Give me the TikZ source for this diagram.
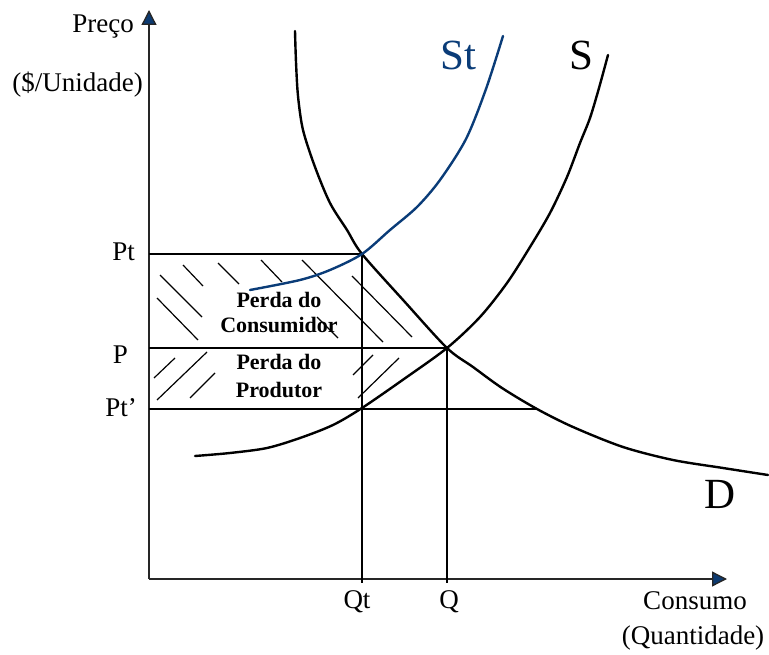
\documentclass[tikz,border=0pt]{standalone}
\usepackage{fontspec}
\setmainfont{Liberation Serif}
\usetikzlibrary{arrows.meta}
\definecolor{stblue}{RGB}{10,60,120}
\definecolor{tipblue}{RGB}{12,58,112}
\tikzset{
  axis/.style={line width=1.3pt, draw=black!85, -{Triangle[length=15pt,width=15pt,fill=tipblue]}},
  curve/.style={line width=2.4pt, line cap=round, line join=round},
  guide/.style={line width=1.2pt},
  hatch/.style={line width=1.2pt},
  lbl/.style={font=\fontsize{27}{31}\selectfont, inner sep=0pt},
  big/.style={font=\fontsize{43}{48}\selectfont, inner sep=0pt},
  area/.style={font=\fontsize{22}{25}\bfseries\selectfont, inner sep=0pt, align=center},
}
\begin{document}
\begin{tikzpicture}[x=1pt,y=-1pt]
\useasboundingbox (0,0) rectangle (769,655);
% key coordinates
\coordinate (O) at (149,579);
\coordinate (ytip) at (149,10);
\coordinate (xtip) at (727,579);
\coordinate (Et) at (362,254);
\coordinate (E) at (447,348);
\coordinate (Es) at (362,408);
\coordinate (Ed) at (537,409);
\coordinate (yPt) at (149,254);
\coordinate (yP) at (149,348);
\coordinate (yPs) at (149,409);
\coordinate (xQt) at (362,583);
\coordinate (xQ) at (447,583);
% axes
\draw[axis] (O) -- (ytip);
\draw[axis] (O) -- (xtip);
% guide lines
\draw[guide] (yPt) -- (Et);
\draw[guide] (yP) -- (E);
\draw[guide] (yPs) -- (Ed);
\draw[guide] (Et) -- (xQt);
\draw[guide] (E) -- (xQ);
% hatching consumer
\draw[hatch] (160,275) -- (202,317);
\draw[hatch] (157,298) -- (198,340);
\draw[hatch] (183,265) -- (203,286);
\draw[hatch] (218,263) -- (239,284);
\draw[hatch] (261,260) -- (282,282);
\draw[hatch] (302,260) -- (383,342);
\draw[hatch] (352,276) -- (412,337);
\draw[hatch] (317,317) -- (338,338);
% hatching producer
\draw[hatch] (154,378) -- (175,358);
\draw[hatch] (157,400) -- (207,352);
\draw[hatch] (190,398) -- (215,373);
\draw[hatch] (353,375) -- (373,355);
\draw[hatch] (358,398) -- (399,358);
% curves
\draw[curve] plot[smooth, tension=0.5] coordinates {(295,31) (296,62) (298,96) (303,130) (315,167) (330,203) (347,230) (362,254) (404,301) (447,348) (473,367) (502,388) (537,409) (573,427) (623,447) (673,460) (723,468) (768,475)};
\draw[curve] plot[smooth, tension=0.5] coordinates {(195,456) (230,453) (267,448) (300,438) (333,425) (362,408) (404,379) (447,348) (480,317) (507,283) (530,247) (550,213) (567,177) (580,143) (590,118) (599,88) (608,55)};
\draw[curve, draw=stblue] plot[smooth, tension=0.5] coordinates {(250,290) (300,280) (330,270) (362,254) (390,230) (417,207) (440,180) (466,139) (486,89) (503,36)};
% labels
\node[lbl, anchor=base east] (lPreco) at (134,33) {Preço};
\node[lbl, anchor=base east] (lUnid) at (143,92) {(\$/Unidade)};
\node[lbl, anchor=base east] (lPt) at (135,261) {Pt};
\node[lbl, anchor=base east] (lP) at (128,363) {P};
\node[lbl, anchor=base east] (lPs) at (137,416) {Pt’};
\node[lbl, anchor=base] (lQt) at (357,608) {Qt};
\node[lbl, anchor=base] (lQ) at (449,608) {Q};
\node[lbl, anchor=base] (lCons) at (695,609) {Consumo};
\node[lbl, anchor=base] (lQuant) at (693,644) {(Quantidade)};
\node[big, anchor=base west, text=stblue] (lSt) at (440,70) {St};
\node[big, anchor=base west] (lS) at (569,70) {S};
\node[big, anchor=base west] (lD) at (704,508) {D};
\node[area, anchor=base] (lPC1) at (279,308) {Perda do};
\node[area, anchor=base] (lPC2) at (279,333) {Consumidor};
\node[area, anchor=base] (lPP1) at (279,370) {Perda do};
\node[area, anchor=base] (lPP2) at (279,397) {Produtor};
\end{tikzpicture}
\end{document}
